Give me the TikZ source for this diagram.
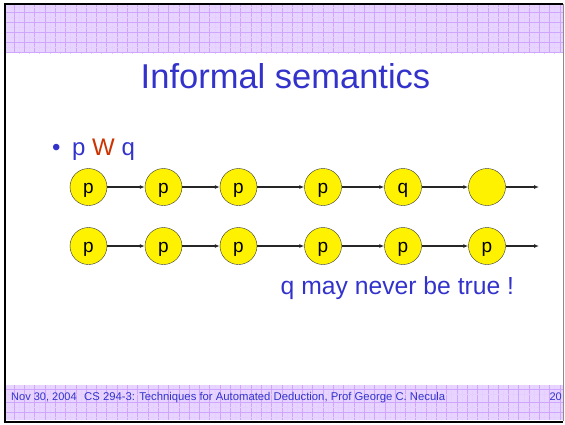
\documentclass[tikz,border=0pt]{standalone}
\usepackage{fontspec}
\setmainfont{Liberation Sans}
\usetikzlibrary{arrows.meta}
\definecolor{slideblue}{RGB}{51,51,204}
\definecolor{slidered}{RGB}{204,51,0}
\definecolor{gridbg}{RGB}{231,212,255}
\definecolor{gridline}{RGB}{208,165,255}
\tikzset{
  state/.style={circle,draw=black!80,fill=yellow,minimum size=37pt,inner sep=0pt,
    text height=14pt,text depth=2pt,font=\fontsize{19}{19}\selectfont},
  trans/.style={-{Latex[length=5pt,width=4pt]},line width=1.2pt,black!85},
  band/.style={fill=gridbg,draw=none},
  major/.style={gridline,line width=0.5pt},
  minor/.style={gridline!55,densely dotted,line width=0.4pt}
}
\begin{document}
\begin{tikzpicture}[x=1pt,y=-1pt]
\useasboundingbox (0,0) rectangle (565,424);
% grid bands
\fill[band] (5,5) rectangle (563,53); %top band
\fill[band] (5,385) rectangle (563,420); %bottom band
\foreach \x in {14,24.3,...,563} {
  \draw[major] (\x,5) -- (\x,53);
  \draw[major] (\x,385) -- (\x,420);
  \draw[minor] (\x+5,5) -- (\x+5,53);
  \draw[minor] (\x+5,385) -- (\x+5,420);
}
\foreach \y in {12,22,32,42,52} {
  \draw[major] (5,\y) -- (563,\y);
  \draw[minor] (5,\y-5) -- (563,\y-5);
}
\foreach \y in {389,402,412} {
  \draw[major] (5,\y) -- (563,\y);
  \draw[minor] (5,\y+5) -- (563,\y+5);
}
% frame
\draw[black,line width=2pt] (4.5,4) -- (563,4); %top
\draw[black,line width=2pt] (4.5,3) -- (4.5,422.5); %left
\draw[black,line width=2pt] (3.5,421.5) -- (563,421.5); %bottom
\draw[black!45,line width=0.8pt] (563,4) -- (563,421); %right
% title and bullet
\node[anchor=base,text=slideblue,font=\fontsize{34.5}{34.5}\selectfont] (title) at (285.5,88) {Informal semantics};
\node[anchor=base west,inner sep=0pt,text=slideblue,font=\fontsize{24}{24}\selectfont] (dot) at (52,155) {\textbullet};
\node[anchor=base west,inner sep=0pt,text=slideblue,font=\fontsize{24}{24}\selectfont] (item) at (72,155) {p \textcolor{slidered}{W} q};
% first run: q eventually holds
\node[state] (a1) at (88.5,187) {p};
\node[state] (a2) at (163.5,187) {p};
\node[state] (a3) at (238.5,187) {p};
\node[state] (a4) at (323,187) {p};
\node[state] (a5) at (403,187) {q};
\node[state] (a6) at (487,187) {};
\coordinate (aend) at (539,187);
\draw[trans] (a1) -- (a2);
\draw[trans] (a2) -- (a3);
\draw[trans] (a3) -- (a4);
\draw[trans] (a4) -- (a5);
\draw[trans] (a5) -- (a6);
\draw[trans] (a6) -- (aend);
% second run: p forever
\node[state] (b1) at (88.5,246) {p};
\node[state] (b2) at (163.5,246) {p};
\node[state] (b3) at (238.5,246) {p};
\node[state] (b4) at (323,246) {p};
\node[state] (b5) at (403,246) {p};
\node[state] (b6) at (487,246) {p};
\coordinate (bend) at (539,246);
\draw[trans] (b1) -- (b2);
\draw[trans] (b2) -- (b3);
\draw[trans] (b3) -- (b4);
\draw[trans] (b4) -- (b5);
\draw[trans] (b5) -- (b6);
\draw[trans] (b6) -- (bend);
\node[anchor=base west,inner sep=0pt,text=slideblue,font=\fontsize{24.7}{24.7}\selectfont] (note) at (280.5,294) {q may never be true !};
% footer
\node[anchor=base west,inner sep=0pt,text=slideblue,font=\fontsize{11}{11}\selectfont] (date) at (11,400) {Nov 30, 2004};
\node[anchor=base west,inner sep=0pt,text=slideblue,font=\fontsize{11.3}{11.3}\selectfont] (course) at (84,400) {CS 294-3: Techniques for Automated Deduction, Prof George C. Necula};
\node[anchor=base east,inner sep=0pt,text=slideblue,font=\fontsize{11}{11}\selectfont] (page) at (562,400) {20};
\end{tikzpicture}
\end{document}
